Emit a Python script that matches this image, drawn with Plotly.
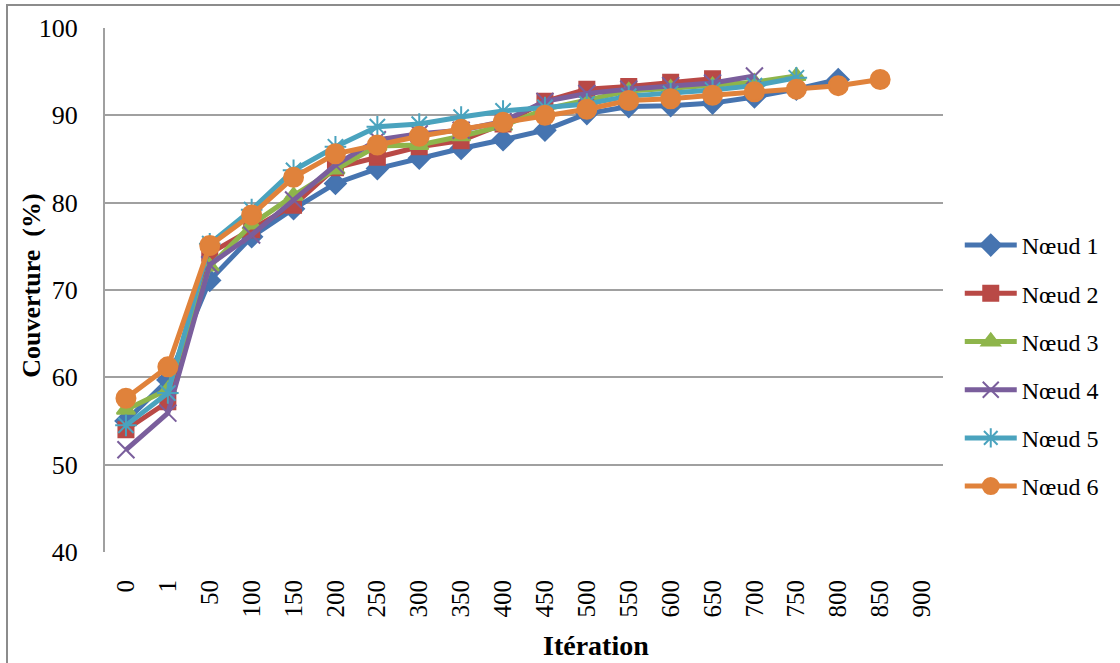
import plotly.graph_objects as go

# Iteration categories (x axis is categorical, like the Excel chart)
iterations = ['0', '1', '50', '100', '150', '200', '250', '300', '350', '400',
              '450', '500', '550', '600', '650', '700', '750', '800', '850', '900']

noeud1 = [55.0, 59.7, 71.1, 76.1, 79.3, 82.2, 83.9, 85.1, 86.2, 87.2,
          88.3, 90.2, 91.0, 91.1, 91.4, 92.1, 93.0, 94.1]
noeud2 = [54.0, 57.2, 74.2, 76.9, 79.7, 84.0, 85.2, 86.4, 87.1, 89.0,
          91.6, 93.0, 93.3, 93.8, 94.2]
noeud3 = [56.3, 58.6, 72.7, 77.5, 80.8, 83.8, 86.5, 86.6, 87.6, 88.8,
          90.7, 91.7, 92.8, 93.1, 93.4, 93.8, 94.5]
noeud4 = [51.7, 55.9, 72.9, 76.3, 80.3, 84.3, 87.2, 87.9, 88.3, 89.3,
          91.6, 92.5, 93.0, 93.4, 93.7, 94.5]
noeud5 = [54.5, 58.2, 75.3, 79.2, 83.7, 86.4, 88.7, 89.0, 89.8, 90.5,
          90.9, 91.3, 92.2, 92.5, 92.9, 93.4, 94.3]
noeud6 = [57.6, 61.2, 75.1, 78.6, 82.9, 85.6, 86.6, 87.6, 88.4, 89.2,
          90.0, 90.7, 91.7, 91.9, 92.3, 92.7, 93.0, 93.4, 94.1]

series = [
    ('Nœud 1', noeud1, '#4674B0', 'diamond', 16),
    ('Nœud 2', noeud2, '#B94946', 'square', 15),
    ('Nœud 3', noeud3, '#8EB54B', 'triangle-up', 16),
    ('Nœud 4', noeud4, '#7A5E9C', 'x-thin-open', 17),
    ('Nœud 5', noeud5, '#4AA3BE', 'asterisk-open', 18),
    ('Nœud 6', noeud6, '#E0823B', 'circle', 19),
]

serif = 'Liberation Serif'

fig = go.Figure()
for i, (name, vals, color, symbol, size) in enumerate(series):
    fig.add_trace(go.Scatter(
        x=iterations[:len(vals)], y=vals, name=name, mode='lines+markers',
        legendgroup=f'g{i}',
        line=dict(color=color, width=5),
        marker=dict(symbol=symbol, size=size, color=color,
                    line=dict(color=color, width=2)),
    ))

# plot area: x 105..943, y 28..552 in the 1120x663 page
fig.update_layout(
    width=1120, height=663,
    margin=dict(l=105, r=177, t=28, b=111),
    paper_bgcolor='white', plot_bgcolor='white',
    font=dict(family=serif, size=24, color='black'),
    showlegend=True,
    legend=dict(x=1.02, y=0.355, xanchor='left', yanchor='middle',
                font=dict(family=serif, size=24, color='black'), itemwidth=52,
                tracegroupgap=14, bgcolor='rgba(0,0,0,0)'),
    xaxis=dict(type='category', categoryorder='array', categoryarray=iterations,
               range=[-0.5, 19.5], tickangle=-90, showgrid=False,
               showline=False, ticks='', ticklabelstandoff=22,
               tickfont=dict(family=serif, size=25)),
    yaxis=dict(range=[40, 100], dtick=10, showgrid=True, gridcolor='#A0A0A0',
               gridwidth=2, showline=True, linecolor='#A0A0A0', linewidth=2,
               ticks='', zeroline=False, ticklabelstandoff=20,
               tickfont=dict(family=serif, size=26)),
)

# axis titles placed like in the original
fig.add_annotation(text='<b>Couverture  (%)</b>', textangle=-90, showarrow=False,
                   xref='paper', yref='paper', x=(32 - 105) / 838, y=0.508,
                   xanchor='center', yanchor='middle',
                   font=dict(family=serif, size=26, color='black'))
fig.add_annotation(text='<b>Itération</b>', showarrow=False,
                   xref='paper', yref='paper', x=(596 - 105) / 838, y=-(645 - 552) / 524,
                   xanchor='center', yanchor='middle',
                   font=dict(family=serif, size=28, color='black'))

# outer chart border (left and top edges visible)
fig.add_shape(type='rect', xref='paper', yref='paper',
              x0=(7 - 105) / 838, x1=(1135 - 105) / 838,
              y0=-(680 - 552) / 524, y1=1 + (28 - 5) / 524,
              line=dict(color='#8C8C8C', width=2), fillcolor='rgba(0,0,0,0)')

fig.write_html('out.html', config={'displayModeBar': False},
               post_script="document.body.style.margin='0px';")
